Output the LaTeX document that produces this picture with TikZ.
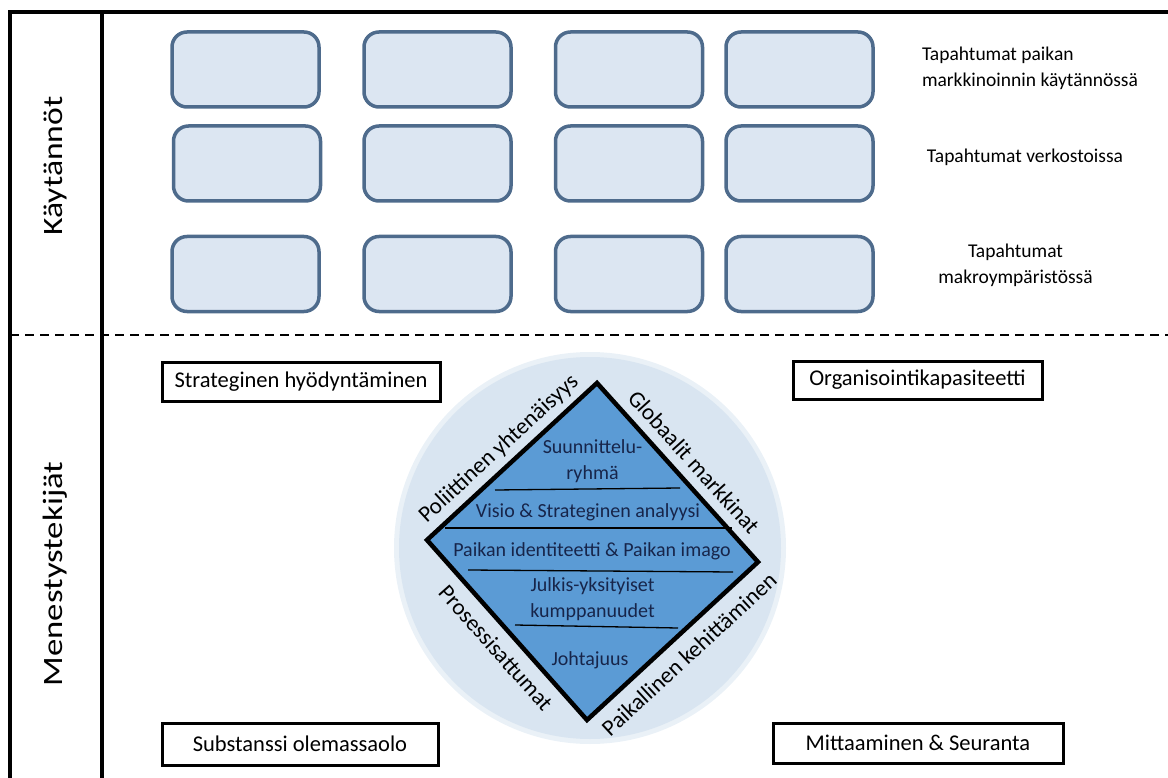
\documentclass[tikz,border=0pt]{standalone}
\usepackage{fontspec}
\setmainfont{Carlito}
\usetikzlibrary{calc}
\definecolor{evfill}{HTML}{DCE6F2}
\definecolor{evline}{HTML}{4E6B8C}
\definecolor{discfill}{HTML}{D9E5F1}
\definecolor{diafill}{HTML}{5B9BD5}
\definecolor{inktext}{HTML}{17254A}
\begin{document}
\begin{tikzpicture}[x=1pt,y=-1pt,
  evbox/.style={draw=evline, fill=evfill, line width=3.5pt, rounded corners=15pt,
    minimum width=147pt, minimum height=75pt, inner sep=0pt},
  sidebox/.style={draw=black, fill=white, line width=3pt, inner sep=0pt,
    font=\fontsize{22.5}{27}\selectfont},
  rowlabel/.style={font=\fontsize{19.5}{26}\selectfont, inner sep=0pt},
  edgelabel/.style={font=\fontsize{23}{27}\selectfont, inner sep=0pt},
  innertext/.style={font=\fontsize{20}{26}\selectfont, text=inktext, inner sep=0pt, align=center},
  bandlabel/.style={font=\fontsize{28}{32}\selectfont, inner sep=0pt, rotate=90},
  frameline/.style={line width=3.5pt},
]
\useasboundingbox (0,0) rectangle (1168,778);

% frame
\coordinate (ftl) at (10,12);
\coordinate (ftr) at (1168,12);
\coordinate (fbl) at (10,778);
\coordinate (dtop) at (102,12);
\coordinate (dbot) at (102,778);
\draw[frameline] (fbl) -- (ftl) -- (ftr);
\draw[frameline] (dtop) -- (dbot);
\coordinate (dl) at (10,335);
\coordinate (dr) at (1168,335);
\draw[line width=1.3pt, dash pattern=on 9pt off 6pt] (dl) -- (dr);

% band titles
\node[bandlabel] (prac) at (55,166) {\scalebox{1.2}[1]{Käytännöt}};
\node[bandlabel] (succ) at (55,574) {\scalebox{1.24}[1]{Menestystekijät}};

% event boxes
\node[evbox] (b11) at (245.5,69.5) {};
\node[evbox] (b12) at (437.5,69.5) {};
\node[evbox] (b13) at (629,69.5) {};
\node[evbox] (b14) at (799.5,69.5) {};
\node[evbox] (b21) at (247,163.5) {};
\node[evbox] (b22) at (437.5,163.5) {};
\node[evbox] (b23) at (629,163.5) {};
\node[evbox] (b24) at (799.5,163.5) {};
\node[evbox] (b31) at (245.5,274) {};
\node[evbox] (b32) at (437.5,274) {};
\node[evbox] (b33) at (629,274) {};
\node[evbox] (b34) at (799.5,274) {};

% row labels
\node[rowlabel, align=left] (r1) at (1030,68.5) {Tapahtumat paikan\\ markkinoinnin käytännössä};
\node[rowlabel] (r2) at (1025,157) {Tapahtumat verkostoissa};
\node[rowlabel, align=center] (r3) at (1015.5,265.5) {Tapahtumat\\makroympäristössä};

% corner factors
\node[sidebox, minimum width=278pt, minimum height=39pt] (sh) at (301,381.5) {Strateginen hyödyntäminen};
\node[sidebox, minimum width=249pt, minimum height=38pt] (ok) at (917.5,380) {Organisointikapasiteetti};
\node[sidebox, minimum width=276pt, minimum height=42pt] (so) at (300,744) {Substanssi olemassaolo};
\node[sidebox, minimum width=290pt, minimum height=40pt] (ms) at (918,743) {Mittaaminen \& Seuranta};

% disc behind the diamond
\coordinate (dc) at (590,548);
\fill[discfill!55] (dc) circle (196);
\fill[discfill] (dc) circle (191);

% diamond
\coordinate (dT) at (597,383);
\coordinate (dR) at (758,562);
\coordinate (dB) at (587,720);
\coordinate (dL) at (427,540);
\draw[fill=diafill, line width=4.5pt, line join=miter] (dT) -- (dR) -- (dB) -- (dL) -- cycle;

% layer separators
\coordinate (s1a) at (495,490); \coordinate (s1b) at (680,488);
\coordinate (s2a) at (445,528); \coordinate (s2b) at (732,528);
\coordinate (s3a) at (468,570); \coordinate (s3b) at (733,572);
\coordinate (s4a) at (515,625); \coordinate (s4b) at (678,628);
\draw[line width=1.3pt] (s1a) -- (s1b);
\draw[line width=1.3pt] (s2a) -- (s2b);
\draw[line width=1.3pt] (s3a) -- (s3b);
\draw[line width=1.3pt] (s4a) -- (s4b);

% layer texts
\node[innertext] (t1) at (592.5,461.5) {Suunnittelu-\\ryhmä};
\node[innertext] (t2) at (588,512) {Visio \& Strateginen analyysi};
\node[innertext] (t3) at (592,551) {Paikan identiteetti \& Paikan imago};
\node[innertext] (t4) at (592.5,599.5) {Julkis-yksityiset\\kumppanuudet};
\node[innertext] (t5) at (590,660) {Johtajuus};

% edge labels
\node[edgelabel, rotate=42.7] (e1) at (499,449) {Poliittinen yhtenäisyys};
\node[edgelabel, rotate=-48] (e2) at (694,462) {Globaalit markkinat};
\node[edgelabel, rotate=-48.4] (e3) at (496,648) {Prosessisattumat};
\node[edgelabel, rotate=42.7] (e4) at (689,654) {Paikallinen kehittäminen};
\end{tikzpicture}
\end{document}
